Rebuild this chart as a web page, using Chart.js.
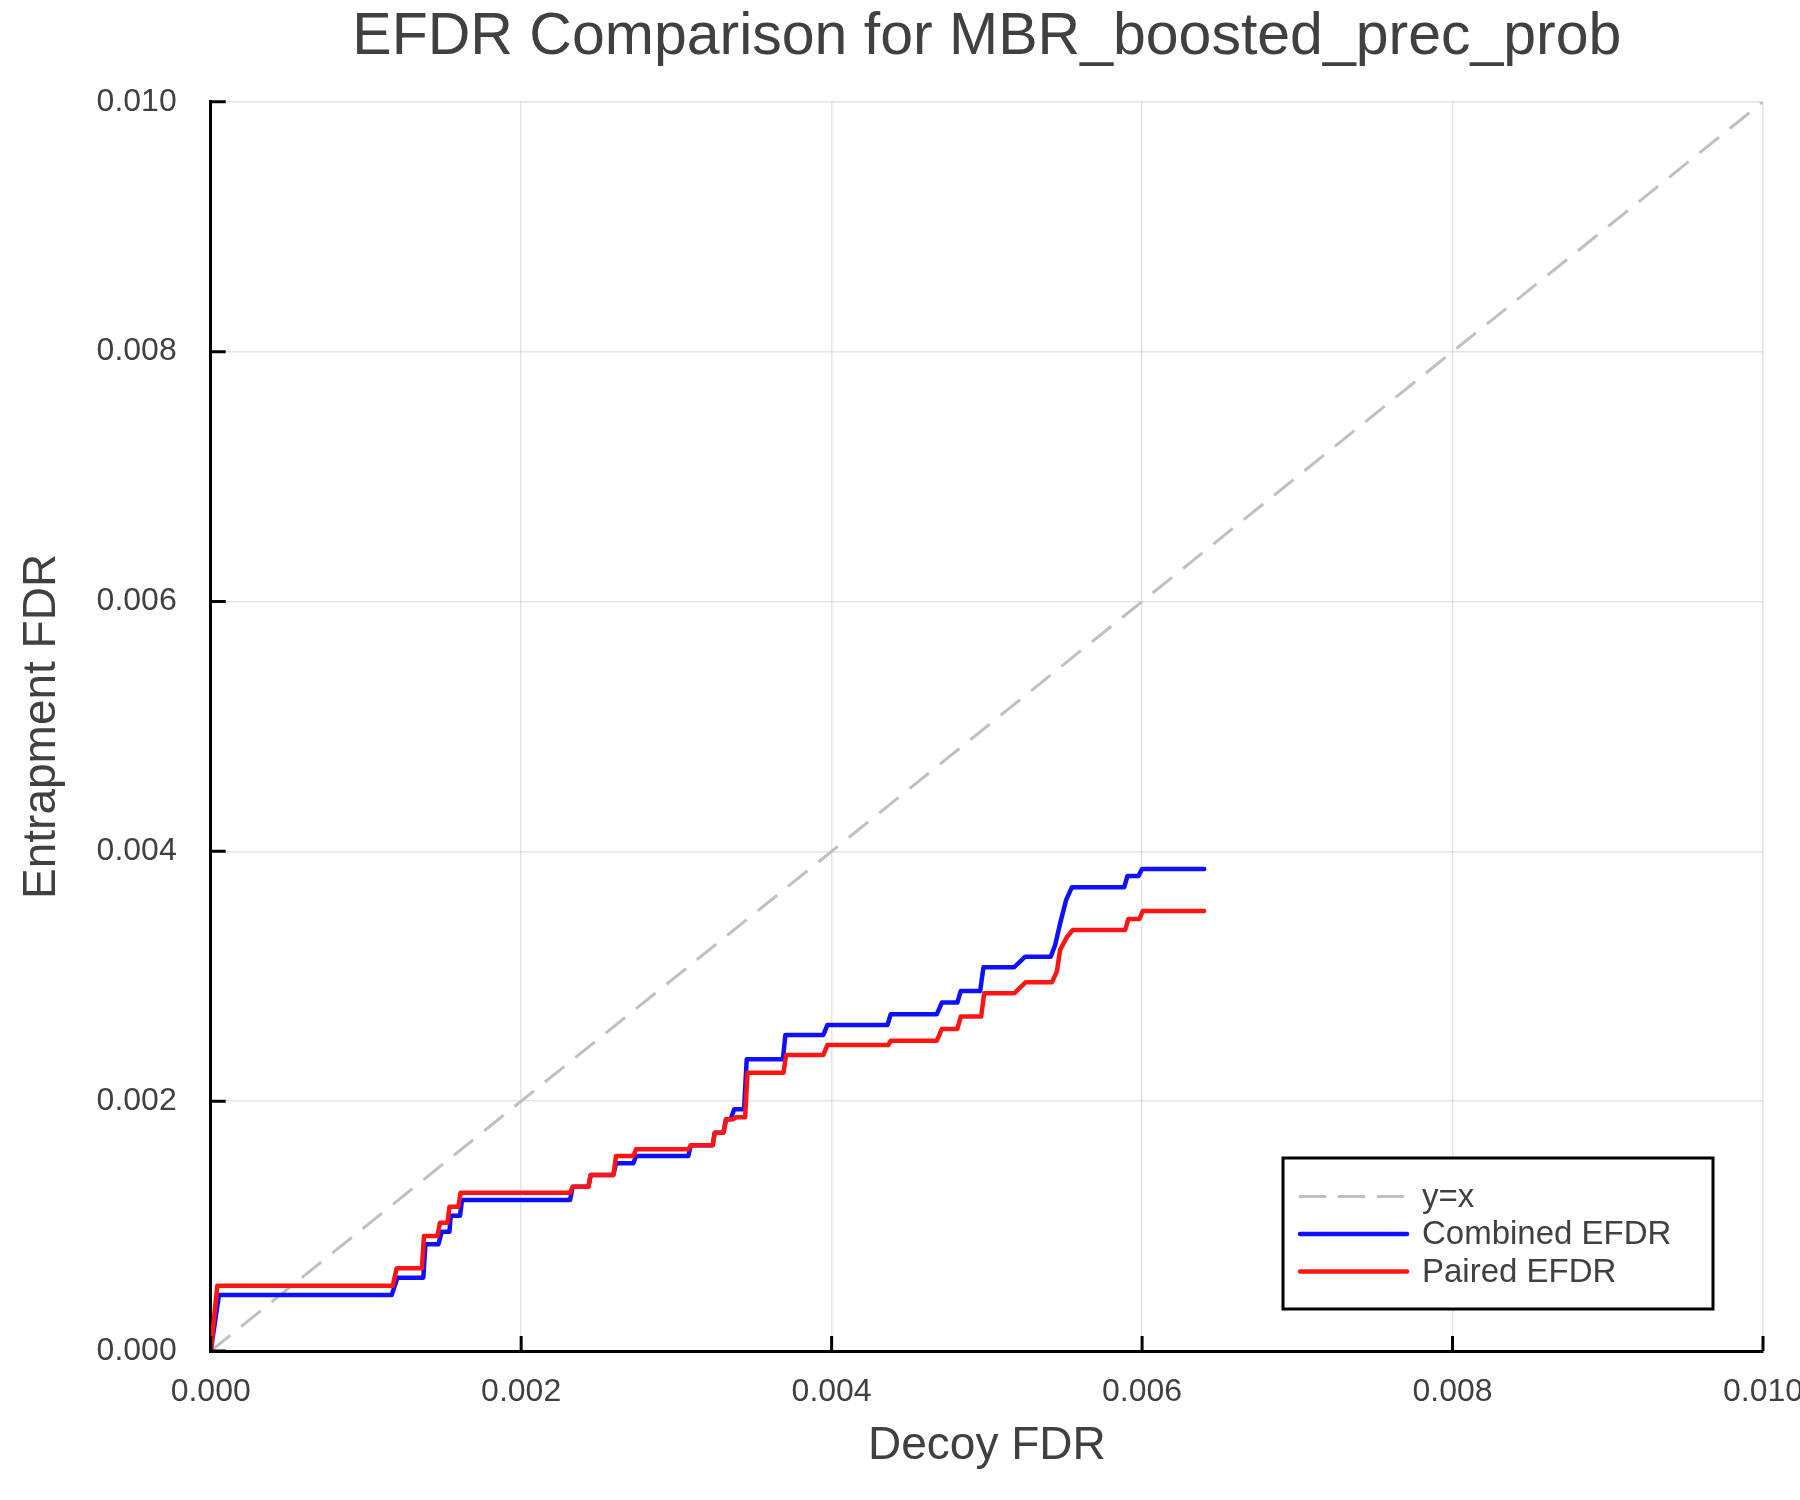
<!doctype html>
<html lang="en">
<head>
<meta charset="utf-8">
<title>EFDR Comparison</title>
<script src="https://cdn.jsdelivr.net/npm/chart.js@4.4.1/dist/chart.umd.min.js"></script>
<style>
  html, body { margin: 0; padding: 0; background: #fff; }
  #chart { display: block; }
</style>
</head>
<body>
<canvas id="chart" width="1800" height="1500" style="width:1800px;height:1500px"></canvas>
<script>
// reference line
var diagX = [0, 0.01];
var diagY = [0, 0.01];

// Combined EFDR (blue) - vertices
var combinedX = [0, 0.0000535, 0.001166, 0.001203, 0.00137, 0.001383, 0.001467, 0.001488, 0.001538, 0.001546,
  0.001606, 0.001619, 0.002315, 0.002332, 0.002433, 0.002448, 0.002594, 0.002611, 0.002723, 0.00274,
  0.003077, 0.003093, 0.003234, 0.003247, 0.003303, 0.00332, 0.00335, 0.003372, 0.003436, 0.003453,
  0.003686, 0.003702, 0.003947, 0.003973, 0.00436, 0.004381, 0.004678, 0.00471, 0.00481, 0.004832,
  0.004957, 0.004978, 0.005176, 0.005247, 0.005412, 0.00544, 0.005472, 0.005511, 0.005548, 0.005885,
  0.005906, 0.005977, 0.005999, 0.0064];
var combinedY = [0, 0.000448, 0.000448, 0.000587, 0.000587, 0.000854, 0.000854, 0.000955, 0.000955, 0.001083,
  0.001083, 0.001209, 0.001209, 0.001315, 0.001315, 0.001409, 0.001409, 0.001503, 0.001503, 0.001561,
  0.001561, 0.001647, 0.001647, 0.001748, 0.001748, 0.001855, 0.001855, 0.001935, 0.001935, 0.002335,
  0.002335, 0.00253, 0.00253, 0.00261, 0.00261, 0.002696, 0.002696, 0.002789, 0.002789, 0.002882,
  0.002882, 0.003072, 0.003072, 0.003157, 0.003157, 0.00325, 0.003423, 0.003611, 0.003713, 0.003713,
  0.003803, 0.003803, 0.003859, 0.003859];

// Paired EFDR (red)
var pairedX = [0, 0.0000425, 0.001173, 0.001198, 0.00136, 0.001374, 0.00146, 0.001477, 0.001525, 0.001538,
  0.001595, 0.00161, 0.002315, 0.002332, 0.002433, 0.002448, 0.002594, 0.002611, 0.002723, 0.00274,
  0.003077, 0.003093, 0.003234, 0.003247, 0.003303, 0.00332, 0.003367, 0.003385, 0.003443, 0.003458,
  0.00369, 0.003707, 0.003947, 0.003973, 0.004366, 0.004381, 0.004678, 0.00471, 0.00481, 0.004832,
  0.004963, 0.004983, 0.005178, 0.005251, 0.005419, 0.005451, 0.005472, 0.005515, 0.005554, 0.005891,
  0.005912, 0.005983, 0.006005, 0.0064];
var pairedY = [0, 0.000523, 0.000523, 0.000662, 0.000662, 0.00092, 0.00092, 0.001027, 0.001027, 0.001155,
  0.001155, 0.001267, 0.001267, 0.001315, 0.001315, 0.001409, 0.001409, 0.001561, 0.001561, 0.001615,
  0.001615, 0.001647, 0.001647, 0.001748, 0.001748, 0.001855, 0.001855, 0.001871, 0.001871, 0.002228,
  0.002228, 0.00237, 0.00237, 0.00245, 0.00245, 0.002484, 0.002484, 0.002578, 0.002578, 0.002677,
  0.002677, 0.002864, 0.002864, 0.002952, 0.002952, 0.003037, 0.003211, 0.003312, 0.003371, 0.003371,
  0.003459, 0.003459, 0.003523, 0.003523];

var axisTicks = [0, 0.002, 0.004, 0.006, 0.008, 0.010];

function pts(xs, ys) {
  return xs.map(function (x, i) { return { x: x, y: ys[i] }; });
}

var textColor = '#404040';
Chart.defaults.font.family = '"Liberation Sans", Arial, sans-serif';
Chart.defaults.color = textColor;

// tick marks drawn inward from the axis lines
var innerTicks = {
  id: 'innerTicks',
  afterDatasetsDraw: function (chart) {
    var ctx = chart.ctx, a = chart.chartArea;
    var xs = chart.scales.x, ys = chart.scales.y;
    ctx.save();
    ctx.strokeStyle = '#000';
    ctx.lineWidth = 3;
    ctx.beginPath();
    axisTicks.forEach(function (v) {
      var px = xs.getPixelForValue(v);
      ctx.moveTo(px, a.bottom);
      ctx.lineTo(px, a.bottom - 15);
      var py = ys.getPixelForValue(v);
      ctx.moveTo(a.left, py);
      ctx.lineTo(a.left + 15, py);
    });
    ctx.stroke();
    ctx.restore();
  }
};

// boxed legend in the lower right of the plot
var legendBox = {
  id: 'legendBox',
  afterDraw: function (chart) {
    var ctx = chart.ctx, a = chart.chartArea;
    var w = 430, h = 151;
    var x = a.right - 50 - w, y = a.bottom - 42 - h;
    ctx.save();
    ctx.fillStyle = '#fff';
    ctx.fillRect(x, y, w, h);
    ctx.strokeStyle = '#000';
    ctx.lineWidth = 3;
    ctx.strokeRect(x, y, w, h);
    chart.data.datasets.forEach(function (ds, i) {
      var ly = y + 38.5 + i * 37.5;
      ctx.beginPath();
      ctx.setLineDash(ds.borderDash || []);
      ctx.strokeStyle = ds.borderColor;
      ctx.lineWidth = ds.borderWidth;
      ctx.lineCap = 'round';
      ctx.moveTo(x + 17, ly);
      ctx.lineTo(x + 124, ly);
      ctx.stroke();
      ctx.setLineDash([]);
      ctx.fillStyle = textColor;
      ctx.font = '33px "Liberation Sans", Arial, sans-serif';
      ctx.textBaseline = 'middle';
      ctx.textAlign = 'left';
      ctx.fillText(ds.label, x + 139, ly + 1);
    });
    ctx.restore();
  }
};

new Chart(document.getElementById('chart'), {
  type: 'line',
  data: {
    datasets: [
      {
        label: 'y=x',
        data: pts(diagX, diagY),
        borderColor: '#c0c0c0',
        borderWidth: 3,
        borderDash: [25, 14],
        pointRadius: 0,
        order: 3
      },
      {
        label: 'Combined EFDR',
        data: pts(combinedX, combinedY),
        borderColor: 'rgb(15,15,255)',
        borderWidth: 4.5,
        borderCapStyle: 'round',
        borderJoinStyle: 'round',
        pointRadius: 0,
        order: 2
      },
      {
        label: 'Paired EFDR',
        data: pts(pairedX, pairedY),
        borderColor: 'rgb(255,20,20)',
        borderWidth: 4.5,
        borderCapStyle: 'round',
        borderJoinStyle: 'round',
        pointRadius: 0,
        order: 1
      }
    ]
  },
  options: {
    responsive: false,
    animation: false,
    devicePixelRatio: 1,
    layout: { padding: { left: 0, right: 37, top: 0, bottom: 0 } },
    plugins: {
      legend: { display: false },
      tooltip: { enabled: false },
      title: {
        display: true,
        fullSize: false,
        text: 'EFDR Comparison for MBR_boosted_prec_prob',
        color: textColor,
        font: { size: 59, weight: 'normal', lineHeight: 1.2 },
        padding: { top: 2, bottom: 29 }
      }
    },
    scales: {
      x: {
        type: 'linear',
        min: 0,
        max: 0.01,
        ticks: {
          stepSize: 0.002,
          padding: 22,
          font: { size: 32 },
          color: textColor,
          maxRotation: 0,
          callback: function (v) { return v.toFixed(3); }
        },
        grid: { color: 'rgba(0,0,0,0.1)', lineWidth: 1.5, drawTicks: false },
        border: { display: true, color: '#000', width: 3 },
        title: {
          display: true,
          text: 'Decoy FDR',
          color: textColor,
          font: { size: 46 },
          padding: { top: 0, bottom: 26 }
        },
        afterFit: function (s) { s.height = 149; s.paddingLeft = 0; s.paddingRight = 0; }
      },
      y: {
        type: 'linear',
        min: 0,
        max: 0.01,
        ticks: {
          stepSize: 0.002,
          padding: 34,
          font: { size: 32 },
          color: textColor,
          callback: function (v) { return v.toFixed(3); }
        },
        grid: { color: 'rgba(0,0,0,0.1)', lineWidth: 1.5, drawTicks: false },
        border: { display: true, color: '#000', width: 3 },
        title: {
          display: true,
          text: 'Entrapment FDR',
          color: textColor,
          font: { size: 46 },
          padding: { top: 15, bottom: 0 }
        },
        afterFit: function (s) { s.width = 210.7; s.paddingTop = 0; s.paddingBottom = 0; }
      }
    }
  },
  plugins: [innerTicks, legendBox]
});
</script>
</body>
</html>
